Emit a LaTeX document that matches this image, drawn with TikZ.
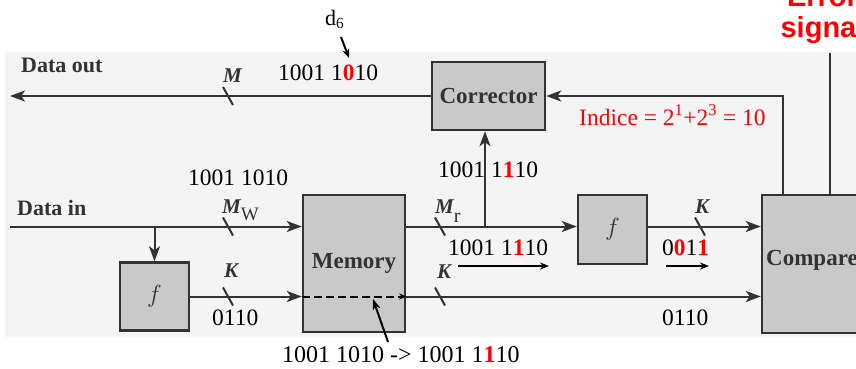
\documentclass[tikz,border=0pt]{standalone}
\usepackage{fontspec}
\setmainfont{Liberation Serif}
\newfontfamily\sansfam{Liberation Sans}
\usetikzlibrary{arrows.meta,calc}
\definecolor{ink}{gray}{0.2}
\definecolor{boxfill}{gray}{0.79}
\definecolor{scanbg}{gray}{0.955}
\begin{document}
\begin{tikzpicture}[x=1pt,y=-1pt,
  box/.style={draw=ink,line width=2.5pt,fill=boxfill,inner sep=0pt,font=\fontsize{23}{26}\selectfont\bfseries,text=ink},
  fbox/.style={box,minimum width=69pt,font=\fontsize{27}{30}\selectfont},
  conn/.style={draw=ink,line width=2pt},
  arr/.style={conn,-{Stealth[length=15pt,width=11pt,inset=4pt]}},
  tickmark/.style={draw=ink,line width=2pt},
  lbl/.style={inner sep=0pt,anchor=base west},
  dig/.style={lbl,font=\fontsize{23.5}{26}\selectfont},
  var/.style={lbl,font=\fontsize{21}{24}\selectfont\bfseries\itshape,text=ink},
  sig/.style={lbl,font=\fontsize{22}{24}\selectfont\bfseries,text=ink},
  small/.style={line width=2pt,-{Stealth[length=9pt,width=7pt]}},
  errfont/.style={inner sep=0pt,anchor=base,text=red,font=\sansfam\bfseries\fontsize{29}{31}\selectfont}
]
\useasboundingbox (0,0) rectangle (856,368);
\clip (0,0) rectangle (856,368);
\fill[scanbg] (5,52) rectangle (856,337);

% boxes
\node[box,minimum width=113pt,minimum height=68pt] (corr) at (488.5,96) {Corrector};
\node[box,minimum width=102pt,minimum height=137pt] (mem) at (354,263.5) {Memory};
\node[fbox,minimum height=68pt] (f1) at (154.5,296.5) {$f$};
\node[fbox,minimum height=69pt] (f2) at (612.5,229.5) {$f$};
\node[box,minimum width=108pt,minimum height=138pt] (cmp) at (816,264) {};
\node[lbl,font=\fontsize{23}{26}\selectfont\bfseries,text=ink] (cmplbl) at (766,265) {Compare};

% coordinates
\coordinate (dout) at (10,96);
\coordinate (din) at (10,226.5);
\coordinate (br) at (154.5,226.5);
\coordinate (tap) at (485,226.5);
\coordinate (fb) at (783,96);
\coordinate (err) at (830,53);

% connectors
\draw[arr] (corr.west) -- (dout);
\draw[arr] (din) -- (din -| mem.west);
\draw[arr] (br) -- (f1.north);
\draw[arr] (f1.east) -- (f1.east -| mem.west);
\draw[draw=black,line width=2pt,dash pattern=on 8pt off 4pt,-{Stealth[length=7pt,width=6pt]}] (f1.east -| mem.west) -- (f1.east -| mem.east);
\draw[arr] (f1.east -| mem.east) -- (f1.east -| cmp.west);
\draw[arr] (din -| mem.east) -- (din -| f2.west);
\draw[arr] (din -| f2.east) -- (din -| cmp.west);
\draw[arr] (tap) -- (tap |- corr.south);
\draw[arr] (cmp.north -| fb) -- (fb) -- (corr.east);
\draw[conn] (err) -- (err |- cmp.north);

% bus width ticks
\foreach \p in {(228,96),(228,226.5),(228,296.5),(440,226.5),(440,296.5),(700,226.5)}
  \draw[tickmark] \p +(-5,-9) -- +(5,9);

% labels
\node[sig] (dataout) at (21,72) {Data out};
\node[sig] (datain) at (17,215) {Data in};
\node[var] (m1) at (223,82) {M};
\node[var] (mw) at (222,213) {M\raisebox{-7pt}{\fontsize{19}{20}\selectfont\mdseries\upshape W}};
\node[var] (mr) at (435,213) {M\raisebox{-9pt}{\fontsize{20}{20}\selectfont\mdseries\upshape r}};
\node[var] (k1) at (224,277) {K};
\node[var] (k2) at (437,278) {K};
\node[var] (k3) at (695,213) {K};

\node[dig] (t1) at (278,80) {1001 1\textcolor{red}{\textbf{0}}10};
\node[dig,font=\fontsize{22}{24}\selectfont] (d6) at (325,25) {d\textsubscript{6}};
\coordinate (d6a) at (341,37);
\coordinate (d6b) at (349,58);
\draw[small] (d6a) -- (d6b);
\node[dig] (t2) at (438,177) {1001 1\textcolor{red}{\textbf{1}}10};
\node[dig] (t3) at (188,185) {1001 1010};
\node[dig] (t4) at (212,325) {0110};
\node[dig] (t5) at (448,255) {1001 1\textcolor{red}{\textbf{1}}10};
\coordinate (s1a) at (458,266);
\coordinate (s1b) at (549,266);
\draw[small] (s1a) -- (s1b);
\node[dig] (t6) at (662,255) {0\textcolor{red}{\textbf{0}}1\textcolor{red}{\textbf{1}}};
\coordinate (s2a) at (666,266);
\coordinate (s2b) at (709,266);
\draw[small] (s2a) -- (s2b);
\node[dig] (t7) at (662,325) {0110};
\node[dig,text=red] (idx) at (579,125) {Indice = 2\textsuperscript{1}+2\textsuperscript{3} = 10};
\node[dig,font=\fontsize{24}{26}\selectfont] (bot) at (282,362) {1001 1010 -> 1001 1\textcolor{red}{\textbf{1}}10};
\coordinate (bota) at (388,342);
\coordinate (botb) at (373,299);
\draw[line width=2pt,-{Stealth[length=11pt,width=8pt]}] (bota) -- (botb);

\node[errfont] (err1) at (822.5,6) {Error};
\node[errfont] (err2) at (822.5,37) {signal};
\end{tikzpicture}
\end{document}
